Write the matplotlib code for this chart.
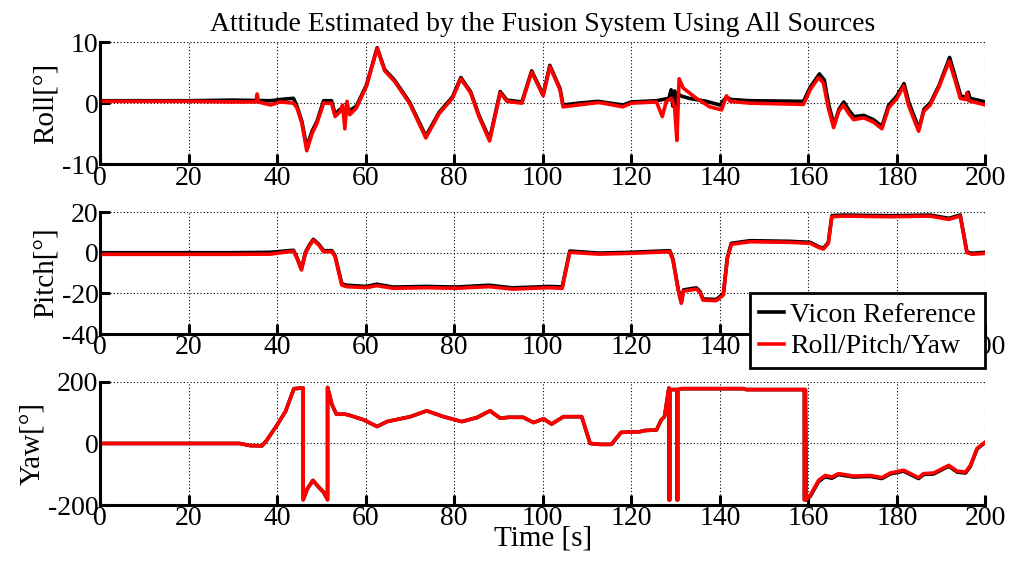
import matplotlib.pyplot as plt

plt.rcParams['font.family'] = ['Liberation Serif', 'DejaVu Serif']
plt.rcParams['axes.unicode_minus'] = False

# ---- Roll [deg] ----
roll_t = [0, 20, 30, 35.2, 35.5, 35.8, 38.5, 40.7, 43.7, 44.5, 45.6, 46.7, 47.9, 49, 50.5,
          52.3, 53.1, 54.2, 54.8, 55.3, 55.8, 56.4, 57.9, 60.2, 62.6, 64.3, 66.5, 69.9,
          73.6, 76.6, 79.6, 81.5, 83.7, 85.6, 88, 90.4, 91.9, 95.3, 97.5, 100.1, 101.6,
          103.9, 104.6, 108, 112.5, 113.6, 118.1, 120, 125.7, 127, 127.9, 129.1, 129.8,
          130.3, 130.8, 131.7, 134.7, 137.7, 140.4, 141.5, 142.3, 146.8, 158.9, 160.4,
          162.3, 163.4, 164.5, 165.7, 166.8, 167.9, 169.1, 170.2, 172.5, 174.7, 176.6,
          178.1, 180, 181.5, 182.6, 183.6, 184.9, 186, 187.5, 189.4, 191.8, 193.2, 194.3,
          195.5, 195.8, 196.2, 200]
roll_est = [0.3, 0.3, 0.2, 0.2, 1.5, 0.2, -0.3, 0.2, 0, -0.8, -3.3, -7.8, -5, -3.3, 0,
            0, -2.2, -1.4, -0.3, -4.2, 0.3, -1.9, -0.8, 2.8, 9, 5.3, 3.6, 0,
            -5.7, -1.7, 0.8, 4, 1.7, -2.2, -6.2, 1.7, 0.3, 0, 5.1, 1.2, 6,
            2.2, -0.6, -0.3, 0.1, 0, -0.6, 0, 0.2, -2.2, 0.3, 0.8, -0.8,
            -6.1, 4, 2.5, 0.8, -0.6, -1.1, 1.2, 0.3, 0, -0.2, 2.2,
            4.2, 3.3, -0.8, -4, -1.4, -0.3, -1.7, -2.7, -2.4, -3.1, -4.2,
            -0.8, 0.8, 2.8, -0.3, -2.2, -4.6, -1.4, -0.3, 2.5, 6.9, 3.6, 0.8,
            0.6, 1.7, 0.4, -0.3]

roll_ref_t = [0, 20, 30, 38.5, 40.7, 43.7, 44.5, 45.6, 46.7, 47.9, 49, 50.5, 52.3, 53.1,
              54.2, 55.3, 56.4, 57.9, 60.2, 62.6, 64.3, 66.5, 69.9, 73.6, 76.6, 79.6,
              81.5, 83.7, 85.6, 88, 90.4, 91.9, 95.3, 97.5, 100.1, 101.6, 103.9, 104.6,
              108, 112.5, 118.1, 120, 125.7, 128.5, 129, 129.4, 129.8, 130.2, 130.6,
              131.2, 133, 137, 140, 141.5, 142.5, 147, 158.9, 160.4, 162.5, 163.6,
              164.6, 165.8, 166.9, 168, 169.2, 170.3, 172.5, 174.7, 176.6, 178.1, 180,
              181.6, 182.7, 183.7, 185, 186.1, 187.6, 189.5, 191.9, 193.3, 194.4, 195.7,
              196.1, 196.5, 200]
roll_ref = [0.4, 0.4, 0.5, 0.4, 0.6, 0.8, -0.5, -3.0, -7.2, -4.6, -3.0, 0.4, 0.4, -1.8,
            -1.0, -1.6, -1.2, -0.5, 3.0, 9.1, 5.5, 3.8, 0.2, -5.4, -1.5, 1.0,
            4.2, 1.9, -2.0, -5.9, 1.9, 0.5, 0.2, 5.3, 1.4, 6.2, 2.4, -0.3,
            0, 0.3, -0.3, 0.2, 0.4, 0.8, 2.2, -0.5, 2.0, -1.0, 1.5,
            1.2, 0.8, 0.3, -0.3, 1.0, 0.6, 0.4, 0.3, 2.6, 4.8, 3.8,
            -0.3, -3.6, -1.0, 0.2, -1.2, -2.2, -2.0, -2.7, -3.8, -0.4, 1.2,
            3.2, 0.1, -1.8, -4.2, -1.0, 0.1, 2.9, 7.5, 4.0, 1.2, 0.9,
            1.8, 0.8, 0.2]

# ---- Pitch [deg] ----
pitch_t = [0, 30, 38.5, 43.7, 44.5, 45.5, 46.4, 47.3, 48.2, 49.4, 50.5, 52.4, 53.1, 54.6,
           55.7, 60.2, 62.5, 66.2, 73.7, 80.4, 87.9, 93.2, 101.4, 104.4, 106.1, 112.7,
           120, 128.7, 129.4, 130.6, 131.3, 131.8, 133.2, 134.7, 135.5, 136.2, 139.2,
           140.8, 141.7, 142.6, 146.8, 155.8, 160.4, 162.3, 163.4, 164.5, 165.3, 167.9,
           178.5, 187.5, 191.7, 194.3, 195.8, 197, 200]
pitch_est = [-0.8, -0.8, -0.7, 0.8, -2.8, -8.5, -0.3, 3.4, 6.2, 3.8, 0.5, 0.5, -2, -15.9,
             -16.7, -17.2, -16.2, -17.5, -17.2, -17.5, -16.7, -17.9, -17.2, -17.5, 0.2, -0.7,
             -0.3, 0.5, -3.6, -18.4, -24.9, -18.9, -18.4, -17.9, -19.5, -23.3, -23.6,
             -20.8, -2.8, 4.1, 5.4, 5.1, 4.6, 2.6, 1.8, 4.6, 17.7, 18,
             17.7, 18, 16.4, 18, 0, -0.8, -0.3]
pitch_ref = [0, 0, 0.2, 1.2, -2.4, -8.0, 0.2, 3.8, 6.6, 4.2, 1.0, 1.0, -1.5, -15.2,
             -16.0, -16.6, -15.5, -16.9, -16.6, -16.9, -16.0, -17.3, -16.6, -16.8, 0.8, -0.2,
             0.2, 1.0, -3.0, -18.0, -24.3, -18.3, -17.8, -17.3, -19.0, -22.8, -23.0,
             -20.2, -2.2, 4.6, 5.9, 5.6, 5.1, 3.0, 2.2, 5.0, 18.2, 18.5,
             18.2, 18.5, 16.9, 18.5, 0.4, -0.3, 0.2]

# ---- Yaw [deg] ----
yaw_t = [0, 31.5, 34, 36.6, 37.7, 40, 41.9, 43.8, 45.6, 45.9, 45.9, 46.8, 48.1, 49.4, 50.5,
         51.4, 51.4, 52.4, 53.4, 55.4, 56.5, 59.5, 62.6, 64.8, 70.1, 73.8, 77.6, 81.7,
         85.1, 88.1, 90.4, 92.3, 95.6, 97.9, 100.2, 102, 104.7, 108.8, 110.7, 112.9,
         115.5, 117.7, 121.9, 123, 125.7, 126.8, 127.5, 128.5, 128.5, 128.7, 128.7, 129.1,
         130.3, 130.3, 130.5, 130.5, 131.3, 145.3, 146, 158.9, 159.1, 159.1, 159.3, 159.3,
         159.5, 160.4, 162.3, 163.8, 165.3, 166.8, 170.2, 174, 176.6, 178.5, 181.5, 184.9,
         186, 188.3, 191.7, 193.6, 195.5, 196.6, 198.1, 200]
yaw_est = [0, 0, -7, -7.7, 11, 60, 104, 178, 180, 180, -183, -148, -120, -142, -158,
           -183, 182, 126, 95, 95, 91, 77, 55, 71, 87, 106, 87, 71,
           84, 106, 82, 85, 85, 68, 80, 63, 87, 87, 0, -3,
           -3, 36, 38, 42, 44, 77, 87, 180, -183, -183, 175, 175,
           175, -183, -183, 175, 178, 178, 175, 175, 175, -183, -183, 175,
           -183, -169, -120, -104, -109, -98, -106, -104, -111, -96, -87, -111,
           -98, -96, -71, -90, -93, -71, -16, 5]
yaw_ref = [0, 0, -7, -7.7, 11, 60, 104, 178, 180, 180, -183, -148, -120, -142, -158,
           -183, 182, 126, 95, 95, 91, 77, 55, 71, 87, 106, 87, 71,
           84, 106, 82, 85, 85, 68, 80, 63, 87, 87, 0, -3,
           -3, 36, 38, 42, 44, 77, 87, 180, -183, -183, 175, 175,
           175, -183, -183, 175, 178, 178, 175, 175, 175, -183, -183, 175,
           -183, -172, -124, -108, -113, -101, -109, -107, -114, -99, -90, -114,
           -101, -99, -74, -93, -96, -74, -18, 4]

REF_COLOR = 'black'
EST_COLOR = '#ff0000'


def style(ax, ylim, yticks, ylabel):
    ax.set_xlim(0, 200)
    ax.set_ylim(*ylim)
    ax.set_xticks(range(0, 201, 20))
    ax.set_yticks(yticks)
    ax.grid(True, linestyle=(0, (1, 2)), color='black', linewidth=0.8)
    for s in ('top', 'right'):
        ax.spines[s].set_visible(False)
    for s in ('left', 'bottom'):
        ax.spines[s].set_linewidth(2.2)
    ax.tick_params(direction='in', length=7, width=2.2, labelsize=20, pad=1)
    ax.set_ylabel(ylabel, fontsize=21, labelpad=2)


fig = plt.figure(figsize=(10.12, 5.7), dpi=100)
ax1 = fig.add_axes([0.0988, 0.712, 0.875, 0.214])
ax2 = fig.add_axes([0.0988, 0.414, 0.875, 0.214])
ax3 = fig.add_axes([0.0988, 0.114, 0.875, 0.216])

ax1.plot(roll_ref_t, roll_ref, color=REF_COLOR, lw=2.6)
ax1.plot(roll_t, roll_est, color=EST_COLOR, lw=2.6)
style(ax1, (-10, 10), [-10, 0, 10], 'Roll[°]')
ax1.set_title('Attitude Estimated by the Fusion System Using All Sources', fontsize=20, pad=8)

l1, = ax2.plot(pitch_t, pitch_ref, color=REF_COLOR, lw=2.6)
l2, = ax2.plot(pitch_t, pitch_est, color=EST_COLOR, lw=2.6)
style(ax2, (-40, 20), [-40, -20, 0, 20], 'Pitch[°]')

ax3.plot(yaw_t, yaw_ref, color=REF_COLOR, lw=2.6)
ax3.plot(yaw_t, yaw_est, color=EST_COLOR, lw=2.6)
style(ax3, (-200, 200), [-200, 0, 200], 'Yaw[°]')
ax3.set_xlabel('Time [s]', fontsize=21, labelpad=-4)

leg = ax2.legend([l1, l2], ['Vicon Reference', 'Roll/Pitch/Yaw'],
                 loc='lower right', bbox_to_anchor=(0.973, 0.354),
                 bbox_transform=fig.transFigure, borderaxespad=0,
                 fancybox=False, edgecolor='black', framealpha=1, fontsize=20,
                 handlelength=0.9, handletextpad=0.2, borderpad=0.32,
                 labelspacing=0.22)
leg.get_frame().set_linewidth(2)
leg.set_zorder(10)

fig.savefig('out.png', dpi=100)
